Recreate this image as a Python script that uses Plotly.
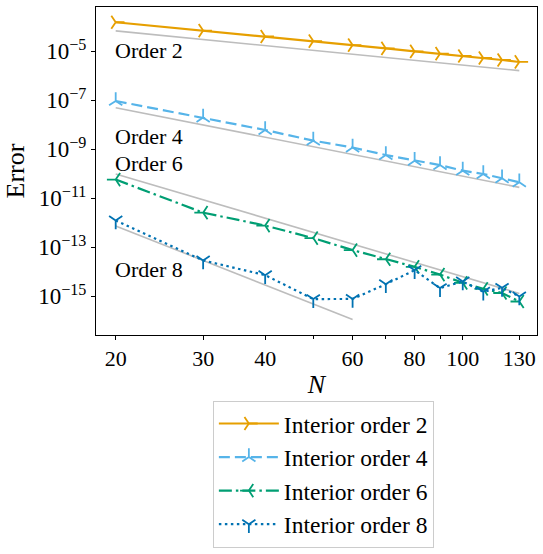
import numpy as np
import plotly.graph_objects as go

# ---- data ----
N = [20, 30, 40, 50, 60, 70, 80, 90, 100, 110, 120, 130]
err_order2 = [1.55e-4, 7.1e-5, 4.07e-5, 2.64e-5, 1.81e-5, 1.33e-5, 1.0e-5, 8.07e-6,
              6.49e-6, 5.38e-6, 4.47e-6, 3.71e-6]
err_order4 = [9.5e-8, 2.0e-8, 6.2e-9, 2.28e-9, 1.2e-9, 5.9e-10, 3.45e-10, 2.3e-10,
              1.36e-10, 9.95e-11, 6.67e-11, 4.58e-11]
err_order6 = [5.9e-11, 2.63e-12, 7.8e-13, 2.4e-13, 7.8e-14, 3.3e-14, 1.62e-14, 7.8e-15,
              3.6e-15, 2.04e-15, 1.38e-15, 6.2e-16]
err_order8 = [1.26e-12, 2.95e-14, 7.4e-15, 7.8e-16, 7.9e-16, 3.16e-15, 1.18e-14, 2.19e-15,
              4.07e-15, 1.55e-15, 2.24e-15, 1.0e-15]

ref_N_long = [20, 130]
ref_N_short = [20, 60]
ref_order2 = [6.9e-5, 1.64e-6]
ref_order4 = [5.06e-8, 2.83e-11]
ref_order6 = [1.0e-10, 1.33e-15]
ref_order8 = [7.5e-13, 1.15e-16]

series_names = ["Interior order 2", "Interior order 4", "Interior order 6", "Interior order 8"]
ref_labels = ["Order 2", "Order 4", "Order 6", "Order 8"]
x_tickvals = [20, 30, 40, 60, 80, 100, 130]
x_minor = [50, 70, 90]
y_tickvals = [1e-5, 1e-7, 1e-9, 1e-11, 1e-13, 1e-15]
y_ticktext = ["10<sup>\u22125</sup>", "10<sup>\u22127</sup>", "10<sup>\u22129</sup>",
              "10<sup>\u221211</sup>", "10<sup>\u221213</sup>", "10<sup>\u221215</sup>"]

# ---- style ----
FONT = "Liberation Serif"
FS = 22
colors = ["#E69F00", "#56B4E9", "#009E73", "#0072B2"]
dashes = ["solid", "11px,5px", "13px,4px,2.5px,4px", "2.5px,3.5px"]
symbols = ["y-right", "y-up", "y-left", "y-down"]
label_y = [-4.97, -8.46, -9.56, -13.9]

fig = go.Figure()

refs = [(ref_N_long, ref_order2), (ref_N_long, ref_order4),
        (ref_N_long, ref_order6), (ref_N_short, ref_order8)]
for rx, ry in refs:
    fig.add_trace(go.Scatter(x=rx, y=ry, mode="lines", showlegend=False,
                             line=dict(color="#bdbdbd", width=1.6), hoverinfo="skip"))

series = [err_order2, err_order4, err_order6, err_order8]
for i, ys in enumerate(series):
    fig.add_trace(go.Scatter(
        x=N, y=ys, mode="lines+markers", name=series_names[i],
        legendgroup=f"g{i}",
        line=dict(color=colors[i], width=2.2, dash=dashes[i]),
        marker=dict(symbol=symbols[i], size=11, color=colors[i],
                    line=dict(color=colors[i], width=1.8)),
    ))

for lbl, yy in zip(ref_labels, label_y):
    fig.add_annotation(x=np.log10(N[0]), y=yy, xref="x", yref="y", text=lbl,
                       showarrow=False, xanchor="left", yanchor="middle",
                       xshift=-3,
                       font=dict(family=FONT, size=FS, color="black"))

fig.update_layout(
    width=543, height=554,
    margin=dict(l=96, r=6, t=7, b=217),
    paper_bgcolor="white", plot_bgcolor="white",
    font=dict(family=FONT, size=FS, color="black"),
    legend=dict(x=0.265, y=-0.6485, xanchor="left", yanchor="bottom",
                bordercolor="#cccccc", borderwidth=1, bgcolor="white",
                itemwidth=60, tracegroupgap=0,
                font=dict(family=FONT, size=23.5)),
)
fig.update_xaxes(type="log", range=[1.26135, 2.14957], automargin=False,
                 tickvals=x_tickvals, ticktext=[str(v) for v in x_tickvals],
                 ticks="outside", ticklen=4, tickwidth=1, tickcolor="black",
                 minor=dict(tickvals=x_minor, ticks="outside", ticklen=2.5,
                            tickwidth=1, tickcolor="black", showgrid=False),
                 showline=True, linecolor="black", linewidth=1, mirror=True,
                 showgrid=False, zeroline=False,
                 title=dict(text="<i>N</i>", standoff=4))
fig.update_yaxes(type="log", range=[-16.574, -3.187], automargin=False,
                 tickvals=y_tickvals, ticktext=y_ticktext,
                 tickfont=dict(size=23),
                 ticks="outside", ticklen=4, tickwidth=1, tickcolor="black",
                 showline=True, linecolor="black", linewidth=1, mirror=True,
                 showgrid=False, zeroline=False,
                 title=dict(text="Error", standoff=6))

fig.write_html("out.html", config={"displayModeBar": False},
               post_script="document.body.style.margin='0';document.body.style.padding='0';")
